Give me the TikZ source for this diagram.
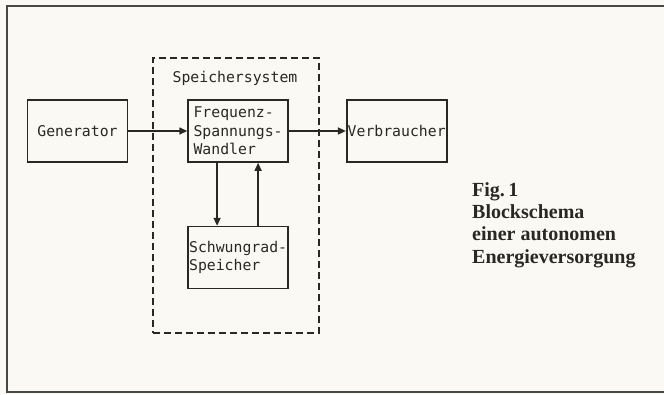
\documentclass[tikz,border=0pt]{standalone}
\usepackage{fontspec}
\usepackage{xcolor}
\usepackage{tikz}
\usetikzlibrary{arrows.meta,positioning,calc}
\newfontfamily\typefont{DejaVu Sans Mono}
\newfontfamily\capfont{Liberation Serif}
\definecolor{ink}{HTML}{2A2725}
\definecolor{frame}{HTML}{4A4846}
\definecolor{paper}{HTML}{FAF9F4}

\begin{document}
\begin{tikzpicture}[x=1pt,y=-1pt,
  font=\typefont\fontsize{14.8}{18.5}\selectfont, text=ink,
  node distance=60pt and 59pt,
  blk/.style={draw=ink,line width=1.6pt,minimum width=100pt,minimum height=62pt,inner sep=0pt,align=left},
  sysbox/.style={draw=ink,line width=1.4pt,dash pattern=on 7pt off 4pt,minimum width=166pt,minimum height=275pt,inner sep=0pt},
  arr/.style={-{Triangle[length=8pt,width=7pt]},line width=1.4pt,draw=ink}]
\useasboundingbox (0,0) rectangle (664,394);
\fill[paper] (0,0) rectangle (664,394);
\draw[frame,line width=2pt] (664,6) -- (7,6) -- (7,392) -- (664,392);
\node[sysbox] (sys) at (236,195.5) {};
\node[blk] (gen) at (77.5,131) {Generator};
\node[blk,right=of gen] (frq) {Frequenz-\\Spannungs-\\Wandler};
\node[blk,right=57pt of frq] (ver) {Verbraucher};
\node[blk,below=63pt of frq] (sch) {Schwungrad-\\Speicher};
\node (lbl) at (235,78) {Speichersystem};
\draw[arr] (gen) -- (frq); \draw[arr] (frq) -- (ver);
\draw[arr] ([xshift=-21pt]frq.south) -- ([xshift=-21pt]frq.south |- sch.north);
\draw[arr] ([xshift=20pt]sch.north) -- ([xshift=20pt]sch.north |- frq.south);
\node[anchor=base west,align=left,inner sep=0pt,font=\capfont\bfseries\fontsize{20}{22.3}\selectfont]
  (cap) at (472,263) {Fig.\,1\\Blockschema\\einer autonomen\\Energieversorgung};
\end{tikzpicture}
\end{document}
